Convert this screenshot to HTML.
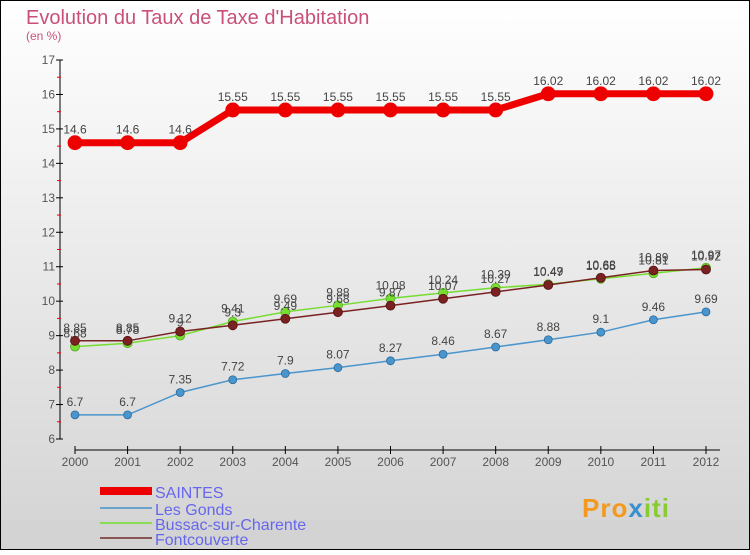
<!DOCTYPE html>
<html><head><meta charset="utf-8"><style>
html,body{margin:0;padding:0}
body{width:750px;height:550px;overflow:hidden;font-family:"Liberation Sans",sans-serif}
</style></head><body>
<svg width="750" height="550" xmlns="http://www.w3.org/2000/svg" id="svg">
<defs><linearGradient id="bg" x1="0" y1="0" x2="0" y2="1"><stop offset="0" stop-color="#ffffff"/><stop offset="1" stop-color="#d3d3d3"/></linearGradient></defs>
<rect x="0.5" y="0.5" width="749" height="549" fill="url(#bg)" stroke="#000"/>
<rect x="0" y="520" width="750" height="30" fill="#d3d3d3"/>
<rect x="0.5" y="0.5" width="749" height="549" fill="none" stroke="#000"/>
<text x="26" y="24" font-size="20" fill="#c8507a">Evolution du Taux de Taxe d'Habitation</text>
<text x="26" y="40" font-size="12" fill="#c8507a">(en %)</text>
<g id="axes"></g><g id="series"></g>
<g font-size="16" fill="#6666ee">
<rect x="100" y="487" width="52" height="8" fill="#ee0000"/><text x="155" y="498" fill="#6666ee">SAINTES</text>
<rect x="100" y="507" width="52" height="2" fill="#6aa3cc"/><text x="155" y="515" fill="#6666ee">Les Gonds</text>
<rect x="100" y="522" width="52" height="2" fill="#88dd55"/><text x="155" y="530" fill="#6666ee">Bussac-sur-Charente</text>
<rect x="100" y="537" width="52" height="2" fill="#8a5555"/><text x="155" y="545" fill="#6666ee">Fontcouverte</text>
</g>
<text x="582" y="517" font-size="26" font-weight="bold" fill="#f39a1e" letter-spacing="1">Pro<tspan fill="#3a8fd0">x</tspan><tspan fill="#88cc33">iti</tspan></text>
</svg>
<script>
const years=[2000,2001,2002,2003,2004,2005,2006,2007,2008,2009,2010,2011,2012];
const saintes=[14.6,14.6,14.6,15.55,15.55,15.55,15.55,15.55,15.55,16.02,16.02,16.02,16.02];
const gonds=[6.7,6.7,7.35,7.72,7.9,8.07,8.27,8.46,8.67,8.88,9.1,9.46,9.69];
const bussac=[8.68,8.78,9,9.41,9.69,9.88,10.08,10.24,10.39,10.49,10.65,10.81,10.97];
const font=[8.85,8.85,9.12,9.3,9.49,9.68,9.87,10.07,10.27,10.47,10.68,10.89,10.92];
const yTicks=[6,7,8,9,10,11,12,13,14,15,16,17];
const NS="http://www.w3.org/2000/svg";
const X=i=>75+i*(631/12), Y=v=>439-(v-6)*(379/11);
function mk(t,a,p){const e=document.createElementNS(NS,t);for(const k in a)e.setAttribute(k,a[k]);p.appendChild(e);return e;}
const ax=document.getElementById('axes');
const yl=mk('line',{x1:60,y1:Y(17),x2:60,y2:Y(6),stroke:'#000'},ax);

yTicks.forEach(v=>{mk('line',{x1:56,x2:63,y1:Y(v),y2:Y(v),stroke:'#000'},ax);
 if(v<17)mk('line',{x1:57,x2:61,y1:Y(v+0.5),y2:Y(v+0.5),stroke:'#e00'},ax);
 const t=mk('text',{x:55,y:Y(v)+4,'font-size':12,fill:'#555','text-anchor':'end'},ax);t.textContent=v;
 });
const xl=mk('line',{x1:75,y1:450,x2:720,y2:450,stroke:'#000'},ax);

years.forEach((y,i)=>{mk('line',{x1:X(i),x2:X(i),y1:446,y2:454,stroke:'#000'},ax);
 const t=mk('text',{x:X(i),y:466,'font-size':12,fill:'#555','text-anchor':'middle'},ax);t.textContent=y;
 });
const sg=document.getElementById('series');
function draw(vals,color,w,r,name,dark){
 const g=mk('g',{},sg);
 mk('polyline',{points:vals.map((v,i)=>X(i)+','+Y(v)).join(' '),fill:'none',stroke:color,'stroke-width':w},g);
 vals.forEach((v,i)=>{const c=mk('circle',{cx:X(i),cy:Y(v),r:r,fill:color,stroke:dark,'stroke-width':0.8},g);
  
  const t=mk('text',{x:X(i),y:Y(v)-9,'font-size':12,fill:'#444','text-anchor':'middle'},g);t.textContent=v;});
}
draw(gonds,'#4a95cc',1.5,4,'les-gonds-series','#2a6aa0');
draw(bussac,'#77dd33',1.5,4.5,'bussac-series','#55aa22');
draw(font,'#7a2222',1.5,4.5,'fontcouverte-series','#551010');
draw(saintes,'#ee0000',7,7,'saintes-series','#ee0000');
</script>
</body></html>
